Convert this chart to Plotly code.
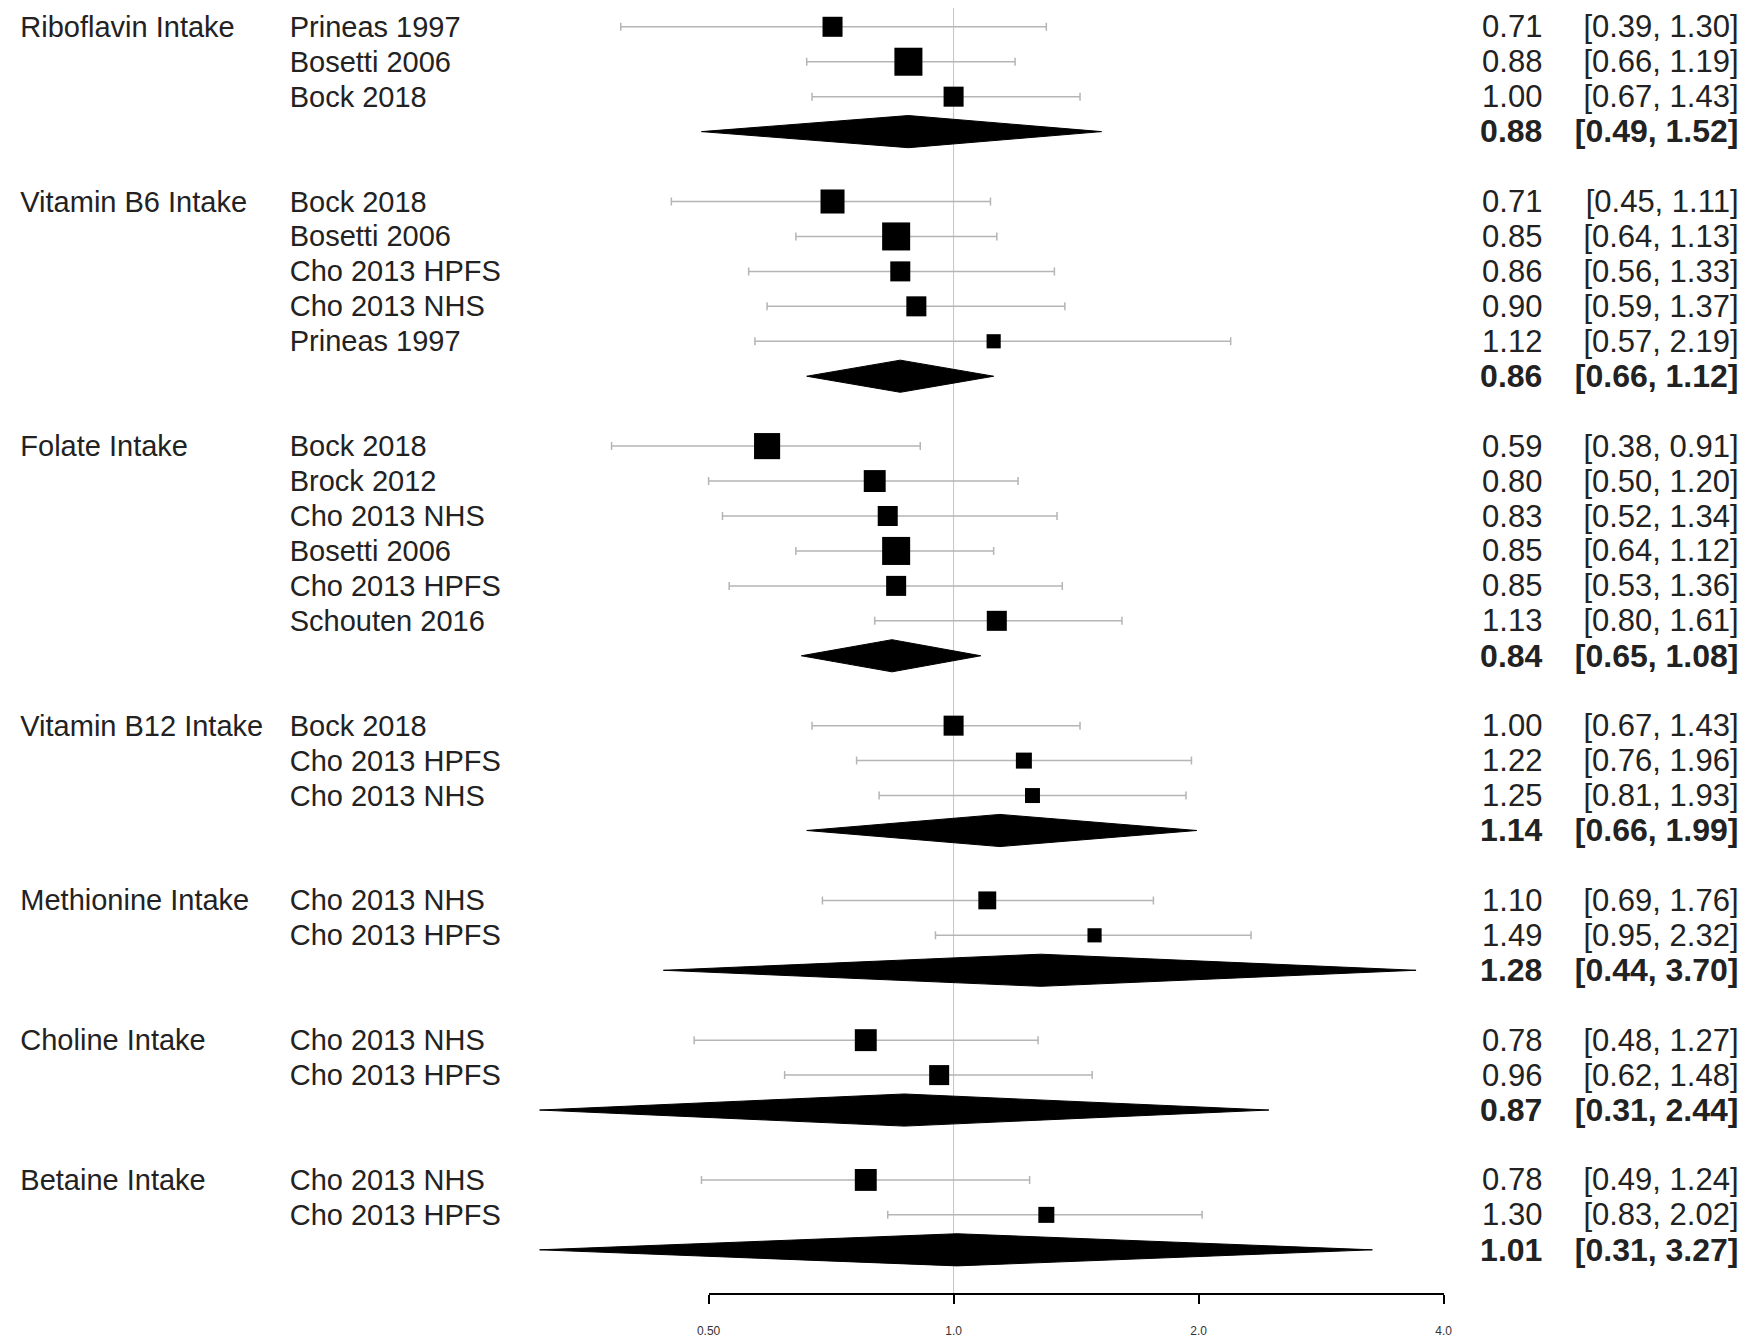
import math
import plotly.graph_objects as go

# ---------------- data ----------------
groups = ["Riboflavin Intake", "Vitamin B6 Intake", "Folate Intake",
          "Vitamin B12 Intake", "Methionine Intake", "Choline Intake", "Betaine Intake"]

studies = [
    ["Prineas 1997", "Bosetti 2006", "Bock 2018"],
    ["Bock 2018", "Bosetti 2006", "Cho 2013 HPFS", "Cho 2013 NHS", "Prineas 1997"],
    ["Bock 2018", "Brock 2012", "Cho 2013 NHS", "Bosetti 2006", "Cho 2013 HPFS", "Schouten 2016"],
    ["Bock 2018", "Cho 2013 HPFS", "Cho 2013 NHS"],
    ["Cho 2013 NHS", "Cho 2013 HPFS"],
    ["Cho 2013 NHS", "Cho 2013 HPFS"],
    ["Cho 2013 NHS", "Cho 2013 HPFS"],
]
est = [
    [0.71, 0.88, 1.00],
    [0.71, 0.85, 0.86, 0.90, 1.12],
    [0.59, 0.80, 0.83, 0.85, 0.85, 1.13],
    [1.00, 1.22, 1.25],
    [1.10, 1.49],
    [0.78, 0.96],
    [0.78, 1.30],
]
lower = [
    [0.39, 0.66, 0.67],
    [0.45, 0.64, 0.56, 0.59, 0.57],
    [0.38, 0.50, 0.52, 0.64, 0.53, 0.80],
    [0.67, 0.76, 0.81],
    [0.69, 0.95],
    [0.48, 0.62],
    [0.49, 0.83],
]
upper = [
    [1.30, 1.19, 1.43],
    [1.11, 1.13, 1.33, 1.37, 2.19],
    [0.91, 1.20, 1.34, 1.12, 1.36, 1.61],
    [1.43, 1.96, 1.93],
    [1.76, 2.32],
    [1.27, 1.48],
    [1.24, 2.02],
]
# relative study weights (estimated from square sizes)
weights = [
    [50, 98, 50],
    [72, 98, 50, 50, 25],
    [85, 60, 50, 98, 50, 50],
    [50, 32, 28],
    [40, 25],
    [60, 50],
    [60, 32],
]
pooled_est = [0.88, 0.86, 0.84, 1.14, 1.28, 0.87, 1.01]
pooled_lo = [0.49, 0.66, 0.65, 0.66, 0.44, 0.31, 0.31]
pooled_hi = [1.52, 1.12, 1.08, 1.99, 3.70, 2.44, 3.27]

tick_vals = [0.5, 1.0, 2.0, 4.0]
tick_text = ["0.50", "1.0", "2.0", "4.0"]

# ---------------- layout constants ----------------
OFF = 8                      # page body margin
W, H = 1748 - OFF, 1338 - OFF
X1_PX = 953.0 - OFF          # pixel of x = 1
PX_PER_OCT = 248.0           # pixels per doubling
ROW0_PX = 26.8 - OFF
ROW_PX = 34.97
AXIS_PX = 1295.0 - OFF
FONT = "Liberation Sans, Arial, sans-serif"
FS = 29
FS_NUM = 31
FS_NUM_B = 32
TXT = "#222222"
TXT_DY = 0.08                # small vertical nudge for text rows

log2 = math.log10(2)
x_lo = -(X1_PX / PX_PER_OCT) * log2
x_hi = ((W - X1_PX) / PX_PER_OCT) * log2
y_top = -ROW0_PX / ROW_PX
y_bot = (H - ROW0_PX) / ROW_PX
axis_row = (AXIS_PX - ROW0_PX) / ROW_PX


def px_to_x(px):
    """page pixel -> data value on the log x axis"""
    return 10 ** (x_lo + (px - OFF) / W * (x_hi - x_lo))


fig = go.Figure()
shapes = []

# vertical reference line at 1
shapes.append(dict(type="line", xref="x", yref="y", x0=1, x1=1, y0=y_top, y1=axis_row,
                   line=dict(color="#c4c4c4", width=1), layer="below"))

grp_txt, grp_y = [], []
stu_txt, stu_y = [], []
est_txt, est_y, est_fs = [], [], []
ci_txt, ci_y, ci_fs = [], [], []

row = 0
for g in range(len(groups)):
    n = len(studies[g])
    rows = list(range(row, row + n))
    grp_txt.append(groups[g])
    grp_y.append(rows[0] + TXT_DY)
    for i in range(n):
        stu_txt.append(studies[g][i])
        stu_y.append(rows[i] + TXT_DY)
        est_txt.append(f"{est[g][i]:.2f}")
        est_y.append(rows[i] + TXT_DY)
        est_fs.append(FS_NUM)
        ci_txt.append(f"[{lower[g][i]:.2f}, {upper[g][i]:.2f}]")
        ci_y.append(rows[i] + TXT_DY)
        ci_fs.append(FS_NUM)
    fig.add_trace(go.Scatter(
        x=est[g], y=rows, mode="markers",
        marker=dict(symbol="square", color="black", opacity=1,
                    size=[2.83 * math.sqrt(w) for w in weights[g]], line=dict(width=0)),
        error_x=dict(type="data", symmetric=False,
                     array=[u - e for u, e in zip(upper[g], est[g])],
                     arrayminus=[e - l for e, l in zip(est[g], lower[g])],
                     color="#b5b5b5", thickness=1.5, width=4),
        hoverinfo="skip", showlegend=False))
    pr = row + n
    hh = 0.46
    fig.add_trace(go.Scatter(
        x=[pooled_lo[g], pooled_est[g], pooled_hi[g], pooled_est[g], pooled_lo[g]],
        y=[pr, pr - hh, pr, pr + hh, pr], mode="lines", fill="toself",
        fillcolor="black", line=dict(color="black", width=1),
        hoverinfo="skip", showlegend=False))
    est_txt.append(f"<b>{pooled_est[g]:.2f}</b>")
    est_y.append(pr + TXT_DY)
    est_fs.append(FS_NUM_B)
    ci_txt.append(f"<b>[{pooled_lo[g]:.2f}, {pooled_hi[g]:.2f}]</b>")
    ci_y.append(pr + TXT_DY)
    ci_fs.append(FS_NUM_B)
    row = pr + 2


def text_trace(xpx, ys, texts, pos, size):
    return go.Scatter(x=[px_to_x(xpx)] * len(ys), y=ys, text=texts, mode="text",
                      textposition=pos, cliponaxis=False,
                      textfont=dict(family=FONT, size=size, color=TXT),
                      hoverinfo="skip", showlegend=False)


fig.add_trace(text_trace(8.3, grp_y, grp_txt, "middle right", FS))
fig.add_trace(text_trace(281, stu_y, stu_txt, "middle right", FS))
fig.add_trace(text_trace(1549, est_y, est_txt, "middle left", est_fs))
fig.add_trace(text_trace(1747.5, ci_y, ci_txt, "middle left", ci_fs))

# invisible trace to carry the visible tick axis
fig.add_trace(go.Scatter(x=tick_vals, y=[axis_row] * len(tick_vals), xaxis="x2", yaxis="y",
                         mode="markers", marker=dict(opacity=0), hoverinfo="skip",
                         showlegend=False))

fig.update_layout(
    width=W, height=H, margin=dict(l=0, r=0, t=0, b=0, pad=0),
    paper_bgcolor="white", plot_bgcolor="rgba(0,0,0,0)",
    xaxis=dict(type="log", range=[x_lo, x_hi], visible=False, domain=[0, 1]),
    xaxis2=dict(type="log", range=[math.log10(tick_vals[0]), math.log10(tick_vals[-1])],
                domain=[(X1_PX - PX_PER_OCT) / W, (X1_PX + 2 * PX_PER_OCT) / W],
                anchor="free", position=(H - AXIS_PX) / H, side="bottom",
                showline=True, linecolor="black", linewidth=1.5,
                ticks="outside", ticklen=9, tickwidth=1.5, tickcolor="black",
                tickvals=tick_vals, ticktext=tick_text, ticklabelstandoff=17,
                tickfont=dict(family=FONT, size=12, color="#333"),
                showgrid=False, zeroline=False),
    yaxis=dict(range=[y_bot, y_top], visible=False, domain=[0, 1]),
    shapes=shapes,
)

fig.write_html("out.html")
